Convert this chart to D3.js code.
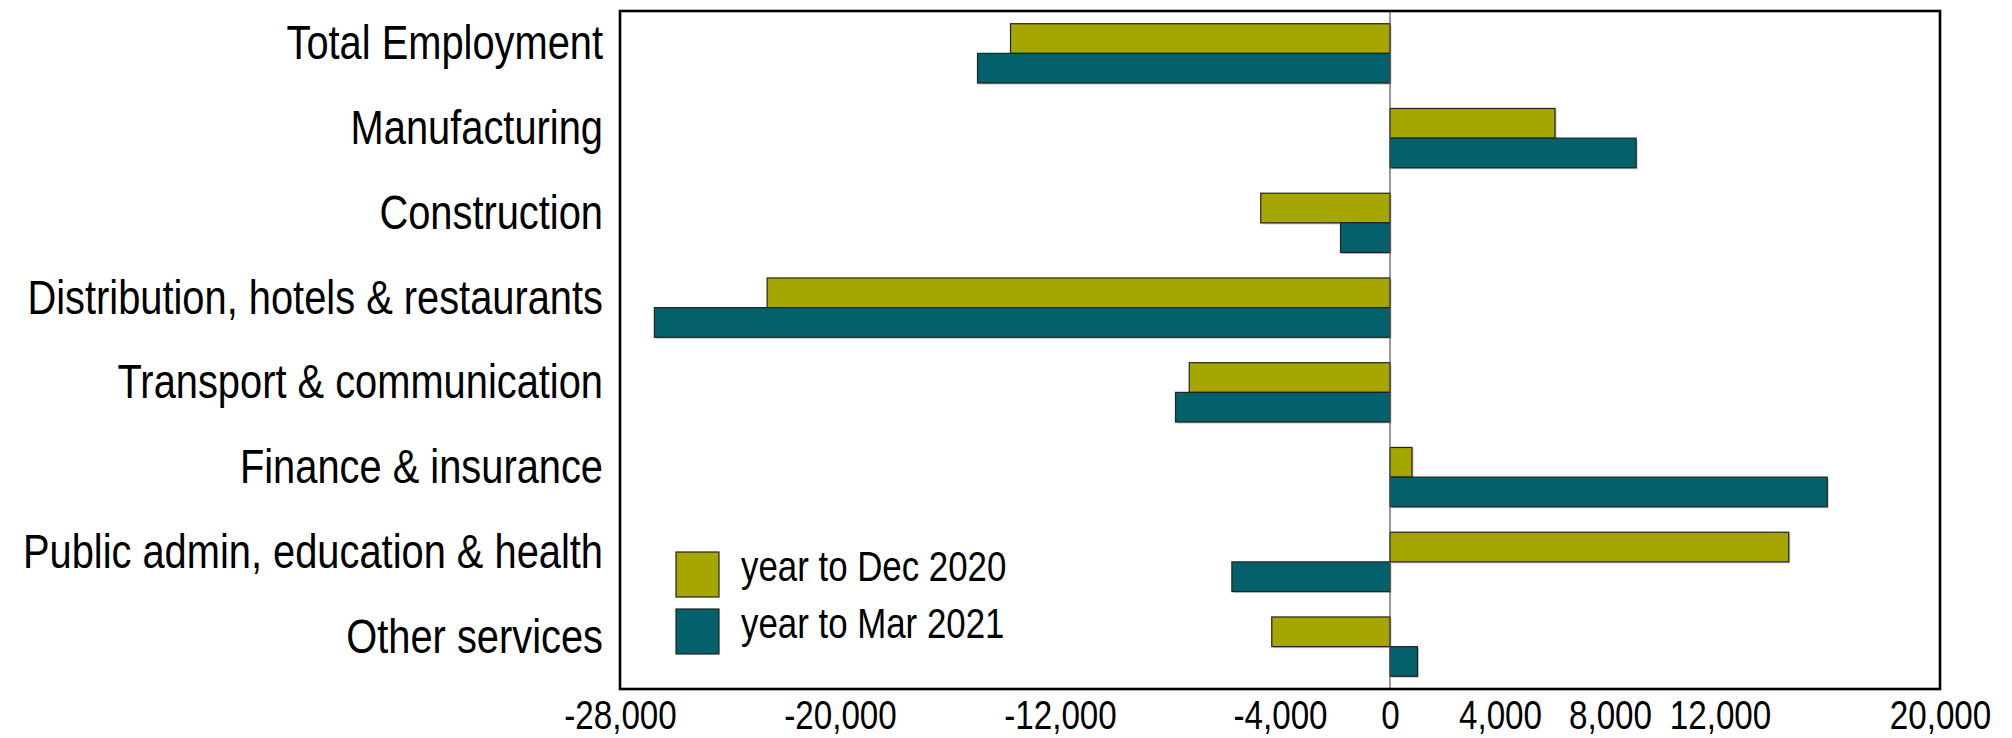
<!DOCTYPE html>
<html>
<head>
<meta charset="utf-8">
<script src="https://cdn.jsdelivr.net/npm/d3@7"></script>
<style>
  html, body { margin: 0; padding: 0; background: #ffffff; }
  svg { display: block; }
  text { font-family: "Liberation Sans", Arial, sans-serif; fill: #000; }
</style>
</head>
<body>
<svg id="chart" width="2012" height="738"></svg>
<script>
// ---- data ----
const categories = [
  "Total Employment",
  "Manufacturing",
  "Construction",
  "Distribution, hotels & restaurants",
  "Transport & communication",
  "Finance & insurance",
  "Public admin, education & health",
  "Other services"
];
const seriesNames = ["year to Dec 2020", "year to Mar 2021"];
const yearToDec2020 = [-13800, 6000, -4700, -22650, -7300, 800, 14500, -4300];
const yearToMar2021 = [-15000, 8950, -1800, -26750, -7800, 15900, -5750, 1000];
const tickValues = [-28000, -20000, -12000, -4000, 0, 4000, 8000, 12000, 20000];
const xDomain = [-28000, 20000];
const colors = ["#a6a600", "#02616a"];

// ---- layout ----
const plot = { left: 620, right: 1940, top: 11, bottom: 689 };
const squeeze = 0.83;

const svg = d3.select("#chart");

const x = d3.scaleLinear().domain(xDomain).range([plot.left, plot.right]);
const y0 = d3.scaleBand().domain(categories).range([plot.top, plot.bottom])
  .paddingInner(0.3).paddingOuter(0.15);
const y1 = d3.scaleBand().domain(seriesNames).range([0, y0.bandwidth()]);

const rows = categories.map((c, i) => ({
  cat: c,
  vals: [
    { s: seriesNames[0], v: yearToDec2020[i], color: colors[0] },
    { s: seriesNames[1], v: yearToMar2021[i], color: colors[1] }
  ]
}));

// bars
const groups = svg.append("g").selectAll("g").data(rows).join("g")
  .attr("transform", d => `translate(0,${y0(d.cat)})`);

groups.selectAll("rect.shadow").data(d => d.vals).join("rect")
  .attr("class", "shadow")
  .attr("x", d => Math.min(x(0), x(d.v)) + 1.5)
  .attr("y", d => y1(d.s) + 1.5)
  .attr("width", d => Math.abs(x(d.v) - x(0)))
  .attr("height", y1.bandwidth())
  .attr("fill", "#c8c8c8");

groups.selectAll("rect.bar").data(d => d.vals).join("rect")
  .attr("class", "bar")
  .attr("x", d => Math.min(x(0), x(d.v)))
  .attr("y", d => y1(d.s))
  .attr("width", d => Math.abs(x(d.v) - x(0)))
  .attr("height", y1.bandwidth())
  .attr("fill", d => d.color)
  .attr("stroke", "#222")
  .attr("stroke-width", 1.2);

// zero line
svg.append("line")
  .attr("x1", x(0)).attr("x2", x(0))
  .attr("y1", plot.top).attr("y2", plot.bottom)
  .attr("stroke", "#555").attr("stroke-width", 1.2);

// plot border
svg.append("rect")
  .attr("x", plot.left).attr("y", plot.top)
  .attr("width", plot.right - plot.left).attr("height", plot.bottom - plot.top)
  .attr("fill", "none").attr("stroke", "#000").attr("stroke-width", 2.6);

// x axis
const fmt = d3.format(",");
const xAxis = svg.append("g")
  .attr("transform", `translate(0,${plot.bottom})`)
  .call(d3.axisBottom(x).tickValues(tickValues).tickSize(0)
    .tickFormat(d => fmt(d).replace("\u2212", "-")));
xAxis.select(".domain").remove();
xAxis.selectAll("text")
  .attr("y", 40).attr("dy", 0)
  .attr("font-size", 40)
  .attr("font-family", "'Liberation Sans', Arial, sans-serif")
  .attr("fill", "#000")
  .attr("transform", `scale(${squeeze},1)`);

// y axis (category labels)
const yAxis = svg.append("g")
  .attr("transform", `translate(603,0)`)
  .call(d3.axisLeft(y0).tickSize(0));
yAxis.select(".domain").remove();
yAxis.selectAll("text")
  .attr("x", 0).attr("y", 6).attr("dy", 0)
  .attr("text-anchor", "end")
  .attr("font-size", 48)
  .attr("font-family", "'Liberation Sans', Arial, sans-serif")
  .attr("fill", "#000")
  .attr("transform", `scale(${squeeze},1)`);

// legend
const legend = svg.append("g").selectAll("g").data(seriesNames).join("g")
  .attr("transform", (d, i) => `translate(676,${552 + i * 57})`);
legend.append("rect")
  .attr("width", 43).attr("height", 45)
  .attr("fill", (d, i) => colors[i])
  .attr("stroke", "#222").attr("stroke-width", 1.2);
legend.append("g")
  .attr("transform", `translate(65,14) scale(${squeeze},1)`)
  .append("text")
  .attr("font-size", 42)
  .attr("dy", "0.35em")
  .text(d => d);
</script>
</body>
</html>
